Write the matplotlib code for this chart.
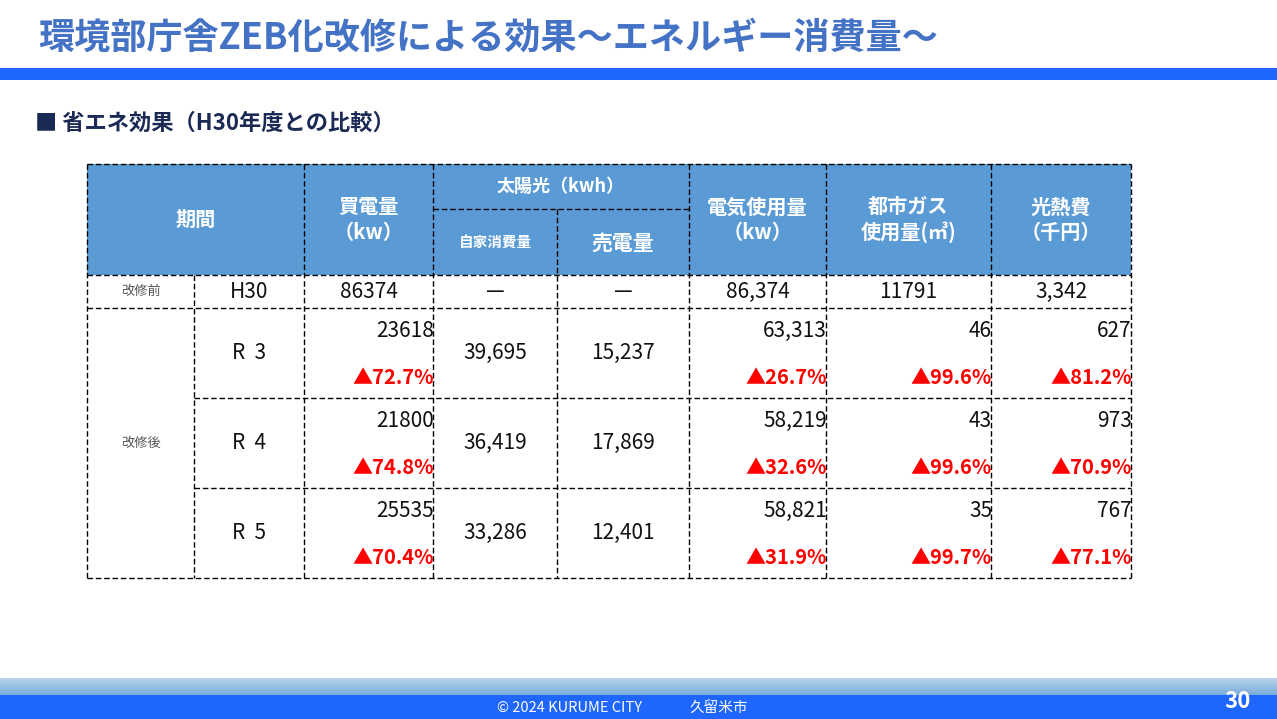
import matplotlib
matplotlib.use("Agg")
import matplotlib.pyplot as plt
import numpy as np

plt.rcParams['font.family'] = ['Noto Sans CJK JP', 'DejaVu Sans']

# ---- data ----
title = "環境部庁舎ZEB化改修による効果～エネルギー消費量～"
subtitle = "■ 省エネ効果（H30年度との比較）"
headers = ["期間", "買電量\n（kw）", "自家消費量", "売電量", "電気使用量\n（kw）",
           "都市ガス\n使用量(㎥)", "光熱費\n（千円）"]
solar_header = "太陽光（kwh）"
phases = ["改修前", "改修後"]
periods = ["H30", "R  3", "R  4", "R  5"]
buy_kw = [86374, 23618, 21800, 25535]
self_use = [None, 39695, 36419, 33286]
sold = [None, 15237, 17869, 12401]
elec_kw = [86374, 63313, 58219, 58821]
gas_m3 = [11791, 46, 43, 35]
cost_k = [3342, 627, 973, 767]
buy_cut = [72.7, 74.8, 70.4]
elec_cut = [26.7, 32.6, 31.9]
gas_cut = [99.6, 99.6, 99.7]
cost_cut = [81.2, 70.9, 77.1]
footer_en = "© 2024 KURUME CITY"
footer_jp = "久留米市"
page = "30"

# ---- layout (pixels) ----
W, H = 1277, 719
cols = [87, 194, 304, 433, 557, 689, 826, 991, 1131]
top, mid_h, head_b = 164, 209, 275
rows = [275, 308, 398, 488, 578]
head_bg = '#5B9BD5'

fig = plt.figure(figsize=(W / 100, H / 100), dpi=100)
ax = fig.add_axes([0, 0, 1, 1])
ax.set_xlim(0, W)
ax.set_ylim(H, 0)
ax.axis('off')

# title + band
ax.text(38, 38, title, fontsize=26, fontweight='bold', color='#4472C4',
        va='center', ha='left')
ax.add_patch(plt.Rectangle((0, 68), W, 12, color='#1F66FF', lw=0))
ax.text(35, 123, subtitle, fontsize=16, fontweight='bold', color='#1B2A55',
        va='center', ha='left')

# header background
ax.add_patch(plt.Rectangle((cols[0], top), cols[-1] - cols[0], head_b - top,
                           color=head_bg, lw=0, zorder=1))

# grid lines (dashed)
ls = dict(color='black', lw=1, linestyle=(0, (4, 2)), zorder=3)
ax.hlines(top, cols[0], cols[-1], **ls)
ax.hlines(mid_h, cols[3], cols[5], **ls)
ax.hlines([rows[0], rows[1], rows[-1]], cols[0], cols[-1], **ls)
ax.hlines(rows[2:4], cols[1], cols[-1], **ls)
ax.vlines([cols[0], cols[2], cols[3], cols[5], cols[6], cols[7], cols[8]],
          top, rows[-1], **ls)
ax.vlines(cols[4], mid_h, rows[-1], **ls)
ax.vlines(cols[1], rows[0], rows[-1], **ls)

# header texts
hy = (top + head_b) / 2
hk = dict(color='white', fontweight='bold', ha='center', va='center',
          linespacing=1.25, zorder=4)
ax.text((cols[0] + cols[2]) / 2, hy, headers[0], fontsize=14.5, **hk)
ax.text((cols[2] + cols[3]) / 2, hy, headers[1], fontsize=14.5, **hk)
ax.text((cols[3] + cols[5]) / 2, (top + mid_h) / 2, solar_header, fontsize=13, **hk)
ax.text((cols[3] + cols[4]) / 2, (mid_h + head_b) / 2 + 1, headers[2], fontsize=10.5, **hk)
ax.text((cols[4] + cols[5]) / 2, (mid_h + head_b) / 2 + 1, headers[3], fontsize=15, **hk)
for i, c in enumerate(range(5, 8)):
    ax.text((cols[c] + cols[c + 1]) / 2, hy, headers[4 + i], fontsize=14.5, **hk)

# phase labels
pk = dict(color='#555555', fontsize=9.5, ha='center', va='center', zorder=4)
ax.text((cols[0] + cols[1]) / 2, (rows[0] + rows[1]) / 2, phases[0], **pk)
ax.text((cols[0] + cols[1]) / 2, (rows[1] + rows[-1]) / 2, phases[1], **pk)

num = dict(color='#111111', fontsize=15, zorder=4)
red = dict(color='#FF0000', fontsize=14.5, fontweight='bold', zorder=4)


def fmt(v, comma):
    if v is None:
        return "—"
    return f"{v:,}" if comma else f"{v}"


# before row (H30)
cy = (rows[0] + rows[1]) / 2
first = [periods[0], fmt(buy_kw[0], False), fmt(self_use[0], True),
         fmt(sold[0], True), fmt(elec_kw[0], True), fmt(gas_m3[0], False),
         fmt(cost_k[0], True)]
for j, s in enumerate(first):
    ax.text((cols[j + 1] + cols[j + 2]) / 2, cy, s, ha='center', va='center', **num)

# after rows
for i in range(1, 4):
    y0, y1 = rows[i], rows[i + 1]
    cy = (y0 + y1) / 2
    ax.text((cols[1] + cols[2]) / 2, cy, periods[i], ha='center', va='center', **num)
    ax.text((cols[3] + cols[4]) / 2, cy, fmt(self_use[i], True), ha='center', va='center', **num)
    ax.text((cols[4] + cols[5]) / 2, cy, fmt(sold[i], True), ha='center', va='center', **num)
    pairs = [(2, buy_kw[i], False, buy_cut[i - 1]),
             (5, elec_kw[i], True, elec_cut[i - 1]),
             (6, gas_m3[i], False, gas_cut[i - 1]),
             (7, cost_k[i], True, cost_cut[i - 1])]
    for c, v, comma, cut in pairs:
        xr = cols[c + 1] + 1
        ax.text(xr, y0 + 23, fmt(v, comma), ha='right', va='center', **num)
        ax.text(xr, y0 + 69, f"▲{cut}%", ha='right', va='center', **red)

# footer
grad = np.linspace(0, 1, 50)[:, None]
c_top = np.array([184, 212, 238]) / 255
c_bot = np.array([122, 172, 216]) / 255
img = c_top[None, None, :] * (1 - grad[..., None]) + c_bot[None, None, :] * grad[..., None]
img = np.repeat(img, 2, axis=1)
ax.imshow(img, extent=[0, W, 695, 678], aspect='auto', zorder=0)
ax.add_patch(plt.Rectangle((0, 695), W, 24, color='#1F66FF', lw=0))
ax.text(497, 708, footer_en, fontsize=10.5, color='white', ha='left', va='center')
ax.text(690, 708, footer_jp, fontsize=10.5, color='white', ha='left', va='center')
ax.text(1238, 702, page, fontsize=16, fontweight='bold', color='white',
        ha='center', va='center')

ax.set_xlim(0, W)
ax.set_ylim(H, 0)
fig.savefig("out.png", dpi=100)
